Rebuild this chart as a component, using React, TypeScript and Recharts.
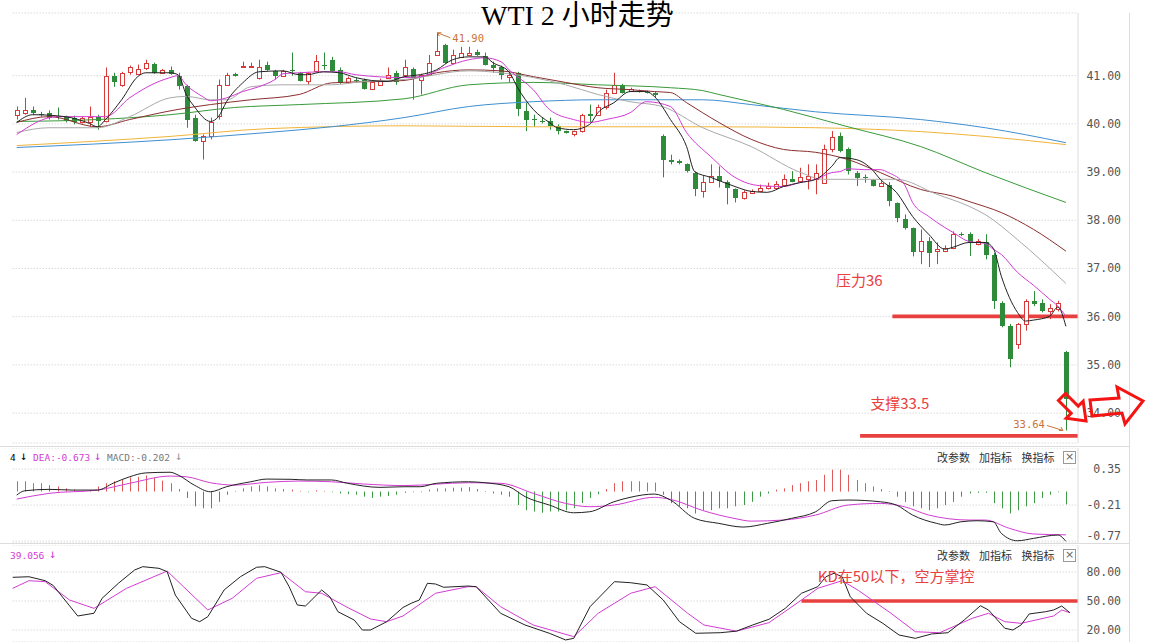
import React from "react";
import {
  ComposedChart,
  Bar,
  Line,
  XAxis,
  YAxis,
  CartesianGrid,
  ReferenceArea,
  ReferenceDot,
} from "recharts";

// ---------------- DATA ----------------
const opens = [
  40.19, 40.23, 40.28, 40.21, 40.23, 40.17, 40.14, 40.13, 40.03, 40.03,
  40.15, 40.05, 41.0, 40.81, 41.08, 41.04, 41.16, 41.25, 41.06, 41.12,
  41.0, 40.78, 40.13, 39.64, 39.74, 40.16, 40.81, 41.04, 41.17, 41.17,
  40.95, 41.23, 41.1, 40.99, 41.12, 41.06, 40.88, 41.09, 41.23, 41.32,
  41.12, 40.86, 40.92, 40.92, 40.73, 40.81, 40.96, 41.06, 41.02, 41.14,
  40.92, 41.02, 41.43, 41.64, 41.27, 41.39, 41.43, 41.5, 41.4, 41.23,
  41.17, 40.98, 41.06, 40.26, 40.1, 40.06, 40.05, 39.95, 39.85, 39.78,
  39.85, 40.2, 40.19, 40.36, 40.64, 40.81, 40.68, 40.68, 40.67, 40.65,
  39.74, 39.26, 39.22, 39.16, 38.99, 38.6, 38.79, 38.92, 38.79, 38.64,
  38.47, 38.57, 38.6, 38.66, 38.68, 38.74, 38.86, 38.81, 38.86, 38.85,
  38.78, 39.47, 39.74, 39.47, 38.99, 38.89, 38.83, 38.71, 38.74, 38.36,
  38.02, 37.83, 37.36, 37.57, 37.36, 37.36, 37.43, 37.71, 37.71, 37.5,
  37.54, 37.29, 36.29, 35.81, 35.43, 35.85, 36.33, 36.28, 36.12, 36.16,
  35.26,
];
const highs = [
  40.36, 40.54, 40.36, 40.25, 40.28, 40.34, 40.17, 40.17, 40.15, 40.36,
  40.19, 41.17, 41.06, 41.08, 41.21, 41.23, 41.33, 41.27, 41.14, 41.19,
  41.06, 40.81, 40.19, 39.78, 40.13, 40.92, 41.06, 41.06, 41.29, 41.27,
  41.33, 41.29, 41.12, 41.12, 41.48, 41.08, 41.08, 41.43, 41.48, 41.39,
  41.17, 40.98, 40.96, 40.94, 40.88, 40.94, 41.17, 41.1, 41.33, 41.17,
  41.04, 41.43, 41.89, 41.66, 41.54, 41.6, 41.6, 41.54, 41.48, 41.29,
  41.21, 41.06, 41.08, 40.44, 40.19, 40.13, 40.13, 39.99, 39.86, 39.86,
  40.21, 40.4, 40.4, 40.71, 41.06, 40.83, 40.75, 40.71, 40.69, 40.67,
  39.78, 39.36, 39.26, 39.18, 39.01, 38.93, 39.16, 39.12, 38.83, 38.66,
  38.62, 38.64, 38.74, 38.78, 38.81, 38.95, 39.02, 39.09, 39.16, 39.16,
  39.57, 39.85, 39.82, 39.51, 39.02, 38.95, 38.85, 38.81, 38.79, 38.37,
  38.12, 37.85, 37.81, 37.65, 37.54, 37.48, 37.77, 37.75, 37.75, 37.61,
  37.71, 37.32, 36.32, 35.85, 35.87, 36.36, 36.53, 36.36, 36.26, 36.33,
  35.29,
];
const lows = [
  40.09, 40.19, 40.19, 40.15, 40.09, 40.09, 40.03, 39.99, 40.01, 39.94,
  39.88, 40.03, 40.77, 40.77, 41.02, 41.02, 41.12, 41.04, 41.04, 41.02,
  40.71, 39.92, 39.63, 39.26, 39.68, 40.09, 40.79, 40.98, 41.17, 41.17,
  40.92, 41.1, 40.92, 40.98, 41.0, 40.88, 40.81, 41.08, 41.12, 41.08,
  40.83, 40.83, 40.86, 40.71, 40.71, 40.79, 40.94, 40.81, 40.98, 40.5,
  40.61, 41.0, 41.41, 41.25, 41.25, 41.37, 41.41, 41.41, 41.21, 41.06,
  40.92, 40.86, 40.16, 39.85, 39.94, 40.01, 39.88, 39.78, 39.8, 39.74,
  39.82, 40.03, 40.17, 40.3, 40.63, 40.63, 40.67, 40.65, 40.63, 40.54,
  38.89, 39.16, 39.16, 38.99, 38.5, 38.47, 38.79, 38.68, 38.33, 38.37,
  38.43, 38.56, 38.6, 38.64, 38.66, 38.72, 38.79, 38.81, 38.64, 38.54,
  38.76, 39.41, 39.41, 38.95, 38.71, 38.78, 38.7, 38.7, 38.29, 37.96,
  37.81, 37.25, 37.09, 37.03, 37.09, 37.34, 37.4, 37.67, 37.26, 37.48,
  37.19, 36.16, 35.78, 34.95, 35.33, 35.71, 36.22, 36.09, 35.95, 36.11,
  33.64,
];
const closes = [
  40.28, 40.28, 40.23, 40.2, 40.13, 40.16, 40.06, 40.03, 40.13, 40.15,
  40.05, 40.99, 40.86, 41.06, 41.17, 41.14, 41.26, 41.06, 41.12, 41.04,
  40.78, 40.09, 39.64, 39.74, 40.03, 40.81, 41.02, 40.99, 41.21, 41.21,
  41.19, 41.12, 40.99, 41.09, 41.1, 40.88, 41.06, 41.3, 41.22, 41.09,
  40.85, 40.96, 40.88, 40.73, 40.86, 40.92, 41.02, 40.86, 41.17, 40.96,
  41.02, 41.27, 41.52, 41.26, 41.43, 41.48, 41.48, 41.43, 41.23, 41.16,
  41.02, 41.02, 40.3, 40.09, 40.08, 40.05, 39.95, 39.85, 39.82, 39.85,
  40.19, 40.17, 40.36, 40.64, 40.81, 40.64, 40.72, 40.67, 40.65, 40.59,
  39.26, 39.2, 39.19, 39.02, 38.64, 38.79, 38.92, 38.81, 38.66, 38.47,
  38.58, 38.6, 38.68, 38.71, 38.76, 38.86, 38.79, 38.9, 38.92, 38.99,
  39.47, 39.73, 39.43, 39.02, 38.88, 38.88, 38.71, 38.78, 38.4, 38.05,
  37.85, 37.34, 37.57, 37.33, 37.4, 37.43, 37.71, 37.69, 37.54, 37.57,
  37.29, 36.33, 35.81, 35.12, 35.85, 36.33, 36.26, 36.12, 36.19, 36.29,
  34.29,
];

type Pt = [number, number];

const ma5Pts: Pt[] = [
  [0, 40.03], [2, 40.19], [6, 40.15], [9, 40.01], [10, 39.94], [11, 40.09], [13, 40.5], [15, 40.98],
  [16, 41.06], [19, 41.06], [20, 41.02], [21, 40.61], [22, 40.36], [24, 40.05], [25, 40.15], [26, 40.46],
  [28, 40.85], [30, 41.08], [33, 41.1], [35, 41.02], [36, 41.02], [38, 41.08], [40, 41.06], [42, 40.96],
  [46, 40.88], [48, 40.98], [50, 41.02], [52, 41.12], [54, 41.33], [56, 41.39], [58, 41.39], [59, 41.27],
  [61, 41.08], [62, 40.77], [64, 40.3], [66, 40.03], [67, 39.92], [69, 39.88], [71, 39.99], [72, 40.23],
  [74, 40.44], [76, 40.67], [78, 40.67], [79, 40.57], [81, 40.09], [83, 39.53], [84, 39.01], [86, 38.89],
  [89, 38.7], [91, 38.6], [93, 38.58], [95, 38.7], [97, 38.78], [99, 38.85], [101, 39.12], [102, 39.3],
  [104, 39.26], [106, 39.05], [107, 38.85], [109, 38.58], [111, 38.08], [113, 37.71], [115, 37.4],
  [116, 37.44], [118, 37.54], [120, 37.54], [121, 37.42], [122, 36.84], [124, 36.09], [125, 35.91],
  [126, 35.93], [128, 36.01], [129, 36.2], [130, 35.8],
];
const ma10Pts: Pt[] = [
  [0, 39.78], [5, 40.15], [10, 40.15], [11, 40.15], [14, 40.54], [16, 40.75], [19, 40.96], [20, 41.0],
  [21, 40.81], [23, 40.57], [24, 40.48], [26, 40.54], [28, 40.67], [30, 40.77], [32, 40.92], [33, 41.04],
  [35, 41.06], [38, 41.08], [40, 41.08], [42, 41.02], [48, 40.96], [50, 40.98], [53, 41.17], [56, 41.33],
  [58, 41.37], [60, 41.29], [61, 41.12], [64, 40.71], [66, 40.3], [69, 40.09], [71, 40.03], [73, 40.09],
  [76, 40.23], [78, 40.46], [81, 40.36], [83, 39.82], [86, 39.32], [89, 38.89], [92, 38.72], [95, 38.7],
  [97, 38.78], [99, 38.85], [101, 38.99], [102, 39.01], [103, 39.07], [105, 39.05], [107, 39.05],
  [108, 38.99], [110, 38.74], [111, 38.37], [113, 38.08], [115, 37.85], [116, 37.75], [118, 37.56],
  [120, 37.52], [121, 37.4], [122, 37.29], [124, 36.92], [126, 36.65], [128, 36.36], [129, 36.22], [130, 36.01],
];
const ma20Pts: Pt[] = [
  [0, 39.82], [4, 39.92], [10, 39.92], [14, 40.15], [19, 40.54], [21, 40.57], [24, 40.5], [26, 40.5],
  [29, 40.77], [33, 40.81], [39, 40.81], [43, 40.88], [48, 40.92], [56, 41.1], [60, 41.06], [68, 40.81],
  [72, 40.61], [76, 40.46], [80, 40.36], [85, 39.92], [91, 39.53], [97, 39.0], [100, 38.85], [109, 38.85],
  [114, 38.54], [118, 38.29], [120, 38.12], [124, 37.6], [130, 36.69],
];
const ma30Pts: Pt[] = [
  [0, 40.03], [4, 40.15], [10, 39.94], [14, 40.09], [20, 40.3], [24, 40.4], [29, 40.5], [35, 40.61],
  [39, 40.85], [48, 40.9], [52, 41.06], [56, 41.12], [60, 41.1], [64, 40.98], [68, 40.86], [72, 40.75],
  [76, 40.71], [79, 40.67], [81, 40.65], [83, 40.44], [85, 40.23], [87, 40.03], [91, 39.68], [95, 39.47],
  [99, 39.41], [103, 39.26], [107, 38.99], [112, 38.64], [116, 38.5], [118, 38.39], [122, 38.16],
  [126, 37.81], [130, 37.36],
];
const ma60Pts: Pt[] = [
  [0, 40.05], [10, 40.09], [19, 40.19], [27, 40.34], [35, 40.4], [48, 40.52], [56, 40.81], [64, 40.86],
  [72, 40.81], [81, 40.75], [85, 40.69], [87, 40.61], [95, 40.3], [103, 39.94], [112, 39.53], [120, 38.99],
  [130, 38.37],
];
const ma120Pts: Pt[] = [
  [0, 39.51], [19, 39.67], [31, 39.82], [39, 39.94], [48, 40.13], [56, 40.36], [64, 40.46], [72, 40.5],
  [85, 40.5], [91, 40.4], [99, 40.25], [112, 40.09], [120, 39.92], [130, 39.61],
];
const ma250Pts: Pt[] = [
  [0, 39.55], [19, 39.74], [31, 39.9], [48, 39.96], [64, 39.94], [85, 39.94], [99, 39.92], [112, 39.84],
  [120, 39.74], [130, 39.57],
];

const macdHist = [
  0.16, 0.16, 0.13, 0.13, 0.1, 0.08, 0.05, 0.03, 0.01, 0.02,
  0.08, 0.13, 0.16, 0.19, 0.22, 0.23, 0.25, 0.21, 0.17, 0.13,
  0.04, -0.1, -0.23, -0.26, -0.26, -0.16, -0.05, 0.01, 0.05, 0.08,
  0.1, 0.08, 0.05, 0.04, 0.03, 0.01, -0.005, 0.02, 0.01, -0.01,
  -0.03, -0.04, -0.05, -0.08, -0.1, -0.08, -0.07, -0.05, -0.02, -0.01,
  -0.01, 0.03, 0.05, 0.05, 0.06, 0.06, 0.07, 0.04, 0.005, -0.03,
  -0.05, -0.08, -0.21, -0.29, -0.31, -0.33, -0.31, -0.31, -0.29, -0.26,
  -0.18, -0.1, -0.04, 0.04, 0.13, 0.16, 0.16, 0.16, 0.14, 0.14,
  -0.05, -0.18, -0.23, -0.26, -0.34, -0.29, -0.29, -0.26, -0.26, -0.23,
  -0.21, -0.16, -0.08, -0.03, 0.03, 0.05, 0.1, 0.13, 0.16, 0.18,
  0.26, 0.34, 0.34, 0.26, 0.18, 0.13, 0.08, 0.04, 0.005, -0.08,
  -0.16, -0.23, -0.26, -0.29, -0.26, -0.21, -0.16, -0.08, -0.03, -0.02,
  -0.02, -0.18, -0.26, -0.34, -0.29, -0.23, -0.18, -0.1, -0.05, -0.01,
  -0.2,
];
const difPts: Pt[] = [
  [0, -0.054], [1, 0.012], [4, 0.034], [7, 0.023], [10, 0.023], [12, 0.132], [14, 0.23], [16, 0.29],
  [19, 0.3], [20, 0.257], [22, 0.1], [24, -0.003], [26, 0.075], [29, 0.152], [31, 0.194], [34, 0.19],
  [36, 0.18], [39, 0.18], [41, 0.128], [45, 0.065], [48, 0.075], [50, 0.075], [52, 0.128], [56, 0.152],
  [58, 0.137], [61, 0.075], [63, -0.08], [66, -0.21], [69, -0.33], [71, -0.314], [74, -0.159], [76, -0.09],
  [79, -0.039], [81, -0.132], [84, -0.417], [87, -0.495], [90, -0.552], [93, -0.495], [96, -0.417],
  [99, -0.314], [101, -0.143], [103, -0.132], [107, -0.159], [109, -0.21], [111, -0.365], [114, -0.495],
  [115, -0.52], [117, -0.47], [119, -0.454], [121, -0.47], [122, -0.65], [124, -0.765], [126, -0.728],
  [129, -0.676], [130, -0.774],
];
const deaPts: Pt[] = [
  [0, -0.117], [4, -0.028], [10, 0.023], [14, 0.128], [19, 0.24], [21, 0.23], [24, 0.137], [27, 0.1],
  [31, 0.143], [35, 0.163], [39, 0.152], [43, 0.117], [48, 0.093], [56, 0.137], [60, 0.128], [64, -0.028],
  [68, -0.184], [71, -0.236], [74, -0.21], [79, -0.09], [81, -0.121], [85, -0.295], [89, -0.42],
  [91, -0.46], [95, -0.443], [99, -0.365], [103, -0.21], [107, -0.184], [110, -0.236], [113, -0.365],
  [118, -0.443], [120, -0.443], [123, -0.572], [126, -0.66], [130, -0.673],
];
const kPts: Pt[] = [
  [0, 74.5], [2, 75.1], [4, 71.0], [5, 66.0], [7, 45.0], [8, 34.5], [10, 37.3], [11, 52.8], [13, 68.3],
  [15, 82.1], [16, 85.5], [18, 83.8], [19, 80.3], [20, 56.2], [22, 32.1], [23, 28.6], [24, 33.8],
  [26, 61.4], [28, 75.1], [30, 84.9], [31, 85.5], [33, 79.7], [34, 64.8], [35, 45.9], [36, 44.8],
  [38, 61.4], [39, 54.4], [40, 38.9], [42, 30.3], [43, 20.0], [44, 20.0], [46, 28.6], [48, 43.3],
  [49, 47.6], [50, 51.0], [51, 68.3], [52, 67.6], [53, 64.2], [56, 65.5], [57, 64.8], [60, 37.3],
  [63, 25.2], [66, 16.6], [68, 9.7], [69, 11.4], [71, 44.1], [74, 70.0], [76, 68.9], [78, 66.6],
  [80, 51.0], [82, 28.6], [84, 16.6], [87, 17.2], [89, 18.8], [91, 25.2], [93, 31.1], [95, 42.4],
  [97, 58.0], [99, 64.8], [100, 75.1], [101, 78.7], [102, 75.1], [103, 54.4], [105, 37.3], [107, 26.9],
  [109, 14.8], [111, 11.4], [113, 15.9], [115, 17.2], [117, 30.3], [119, 45.1], [120, 40.7], [122, 21.8],
  [123, 20.0], [124, 25.2], [125, 36.6], [127, 38.9], [128, 40.7], [129, 44.8], [130, 37.9],
];
const dPts: Pt[] = [
  [0, 63.1], [2, 71.0], [4, 70.0], [7, 51.0], [10, 42.4], [14, 63.1], [19, 81.0], [21, 64.8], [24, 40.7],
  [27, 52.8], [30, 73.5], [33, 79.3], [36, 59.6], [38, 58.0], [41, 44.1], [44, 31.4], [46, 28.6],
  [48, 34.5], [52, 58.0], [56, 64.8], [57, 64.8], [60, 44.1], [64, 25.2], [69, 13.1], [72, 37.3],
  [76, 58.0], [79, 64.8], [83, 37.3], [85, 25.2], [89, 18.8], [93, 27.6], [97, 51.0], [99, 63.1],
  [102, 71.0], [104, 60.9], [108, 37.3], [111, 18.2], [114, 17.2], [118, 32.1], [120, 37.3], [122, 28.6],
  [124, 26.9], [128, 34.5], [129, 40.7], [130, 37.9],
];

const priceTicks = [34, 35, 36, 37, 38, 39, 40, 41];
const macdTicks = [0.35, -0.21, -0.77];
const kdTicks = [80, 50, 20];

// ---------------- LAYOUT / STYLE ----------------
const SLOTS = 132;
const LEFT = 12.66;
const AXIS_W = 72;
const W = 1150;
const RED = "#d83a3a";
const GREEN = "#2e8b3a";
const MAGENTA = "#d23cd2";
const LINE_RED = "#e8403f";
const MONO = "DejaVu Sans Mono, Liberation Mono, monospace";
const CJK = "Noto Sans CJK SC, Noto Sans, sans-serif";

const toMap = (pts: Pt[]) => {
  const m = new Map<number, number>();
  pts.forEach(([i, v]) => m.set(i, v));
  return m;
};
const series = (obj: Record<string, Pt[]>) =>
  Object.entries(obj).map(([k, pts]) => [k, toMap(pts)] as [string, Map<number, number>]);

const mainSeries = series({
  ma5: ma5Pts, ma10: ma10Pts, ma20: ma20Pts, ma30: ma30Pts, ma60: ma60Pts, ma120: ma120Pts, ma250: ma250Pts,
});
const mainRows = Array.from({ length: SLOTS }, (_, i) => {
  const row: any = { i };
  if (i < opens.length) {
    row.o = opens[i];
    row.h = highs[i];
    row.l = lows[i];
    row.c = closes[i];
    row.range = [lows[i], highs[i]];
  }
  mainSeries.forEach(([k, m]) => (row[k] = m.has(i) ? m.get(i) : null));
  return row;
});
const macdSeries = series({ dif: difPts, dea: deaPts });
const macdRows = Array.from({ length: SLOTS }, (_, i) => {
  const row: any = { i, hist: i < macdHist.length ? macdHist[i] : null };
  macdSeries.forEach(([k, m]) => (row[k] = m.has(i) ? m.get(i) : null));
  return row;
});
const kdSeries = series({ k: kPts, d: dPts });
const kdRows = Array.from({ length: SLOTS }, (_, i) => {
  const row: any = { i };
  kdSeries.forEach(([k, m]) => (row[k] = m.has(i) ? m.get(i) : null));
  return row;
});

// ---------------- SHAPES ----------------
const Candle = (props: any) => {
  const { x, y, width, height, payload } = props;
  if (!payload || payload.o == null || x == null || y == null) return <g />;
  const top = Math.min(y, y + height);
  const hgt = Math.abs(height);
  const span = payload.h - payload.l;
  const py = (p: number) => (span > 0 ? top + ((payload.h - p) / span) * hgt : top);
  const col = Math.round(x + width / 2);
  const cx = col + 0.5;
  const up = payload.c >= payload.o;
  const yHi = py(payload.h);
  const yLo = py(payload.l);
  const yTop = py(Math.max(payload.o, payload.c));
  const yBot = py(Math.min(payload.o, payload.c));
  if (up) {
    const bt = Math.round(yTop) + 0.5;
    const bb = Math.max(Math.round(yBot) + 0.5, bt + 1);
    return (
      <g>
        <line x1={cx} x2={cx} y1={yHi} y2={bt} stroke={RED} strokeWidth={1} />
        <line x1={cx} x2={cx} y1={bb} y2={yLo} stroke={RED} strokeWidth={1} />
        <rect x={cx - 2} y={bt} width={4} height={bb - bt} fill="#fff" stroke={RED} strokeWidth={1} />
      </g>
    );
  }
  const bt = Math.round(yTop);
  const bb = Math.max(Math.round(yBot), bt + 1);
  return (
    <g>
      <line x1={cx} x2={cx} y1={yHi} y2={yLo} stroke={GREEN} strokeWidth={1} />
      <rect x={col - 2} y={bt} width={5} height={bb - bt} fill={GREEN} />
    </g>
  );
};

const HistBar = (props: any) => {
  const { x, y, width, height, payload } = props;
  if (!payload || payload.hist == null || x == null || y == null) return <g />;
  const cx = Math.round(x + width / 2) + 0.5;
  const t = Math.min(y, y + height);
  const b = Math.max(y, y + height);
  return (
    <line x1={cx} x2={cx} y1={t} y2={Math.max(b, t + 0.6)} stroke={payload.hist >= 0 ? "#e05a5a" : "#3d9a45"} strokeWidth={1} />
  );
};

const makeTick = (lastShift = 0, lastVal?: number) => (props: any) => {
  const { x, y, payload } = props;
  const shift = lastVal !== undefined && payload.value === lastVal ? lastShift : 0;
  return (
    <text x={x + 43} y={y + shift} dy={4} textAnchor="end" fontFamily={MONO} fontSize={11.5} fill="#555">
      {Number(payload.value).toFixed(2)}
    </text>
  );
};

const PriceLabel = (side: "right" | "left", text: string) => (props: any) => {
  const { cx, cy } = props;
  if (cx == null || cy == null) return <g />;
  if (side === "right") {
    return (
      <g>
        <line x1={cx + 1} y1={cy} x2={cx + 14} y2={cy + 5} stroke="#c8733a" strokeWidth={1} />
        <polyline points={`${cx + 5},${cy} ${cx + 1},${cy} ${cx + 3},${cy + 3.5}`} fill="none" stroke="#c8733a" strokeWidth={1} />
        <text x={cx + 16} y={cy + 9} fontFamily={MONO} fontSize={10.5} fill="#c8733a">{text}</text>
      </g>
    );
  }
  return (
    <g>
      <line x1={cx - 19} y1={cy - 5} x2={cx - 3} y2={cy} stroke="#c8733a" strokeWidth={1} />
      <polyline points={`${cx - 7},${cy} ${cx - 3},${cy} ${cx - 5},${cy - 3.5}`} fill="none" stroke="#c8733a" strokeWidth={1} />
      <text x={cx - 21} y={cy - 2} textAnchor="end" fontFamily={MONO} fontSize={10.5} fill="#c8733a">{text}</text>
    </g>
  );
};

const RedText = (text: string, dx = 0) => (props: any) => {
  const { cx, cy } = props;
  if (cx == null || cy == null) return <g />;
  return (
    <text x={cx + dx} y={cy} dy={5} fontFamily={CJK} fontSize={15} fill={LINE_RED}>{text}</text>
  );
};

const yAxisCommon = {
  orientation: "right" as const,
  width: AXIS_W,
  tickSize: 0,
  tickMargin: 0,
  tickLine: false,
  axisLine: { stroke: "#dcdcdc" },
  allowDataOverflow: true,
  interval: 0 as const,
};

const MenuRow = ({ top }: { top: number }) => (
  <>
    {[["改参数", 937], ["加指标", 979], ["换指标", 1021.5]].map(([t, x]) => (
      <div key={t as string} style={{ position: "absolute", left: x as number, top, fontFamily: CJK, fontSize: 11, lineHeight: "14px", color: "#333", whiteSpace: "nowrap" }}>{t}</div>
    ))}
    <div style={{ position: "absolute", left: 1063, top: top + 1, width: 11, height: 11, border: "1px solid #999", fontFamily: "DejaVu Sans, sans-serif", fontSize: 11, lineHeight: "10px", textAlign: "center", color: "#666" }}>×</div>
  </>
);

export default function App() {
  return (
    <div style={{ position: "absolute", left: 0, top: 0, width: W, height: 642, background: "#fff", overflow: "hidden" }}>
      {/* panel frame lines */}
      <div style={{ position: "absolute", left: 1129, top: 13, width: 1, height: 629, background: "#dcdcdc" }} />
      <div style={{ position: "absolute", left: 0, top: 446, width: 1130, height: 1, background: "#dcdcdc" }} />
      <div style={{ position: "absolute", left: 0, top: 543, width: 1130, height: 1, background: "#dcdcdc" }} />

      {/* main price panel */}
      <div style={{ position: "absolute", left: 0, top: 0 }}>
        <ComposedChart width={W} height={445} data={mainRows} margin={{ top: 13, right: 0, bottom: 2, left: LEFT }}>
          <CartesianGrid vertical={false} stroke="#c9c9c9" strokeDasharray="1 2" />
          <XAxis dataKey="i" type="category" hide />
          <YAxis {...yAxisCommon} domain={[33.38, 42.3]} ticks={priceTicks} tick={makeTick()} />
          <Bar dataKey="range" barSize={5} shape={Candle} isAnimationActive={false} />
          <Line type="monotone" dataKey="ma250" stroke="#f0b43c" strokeWidth={1} dot={false} connectNulls isAnimationActive={false} />
          <Line type="monotone" dataKey="ma120" stroke="#3f8fd0" strokeWidth={1} dot={false} connectNulls isAnimationActive={false} />
          <Line type="monotone" dataKey="ma60" stroke="#3a9a3a" strokeWidth={1} dot={false} connectNulls isAnimationActive={false} />
          <Line type="monotone" dataKey="ma30" stroke="#8a2e2e" strokeWidth={1} dot={false} connectNulls isAnimationActive={false} />
          <Line type="monotone" dataKey="ma20" stroke="#a9a9a9" strokeWidth={1} dot={false} connectNulls isAnimationActive={false} />
          <Line type="monotone" dataKey="ma10" stroke={MAGENTA} strokeWidth={1} dot={false} connectNulls isAnimationActive={false} />
          <Line type="monotone" dataKey="ma5" stroke="#222" strokeWidth={1} dot={false} connectNulls isAnimationActive={false} />
          <ReferenceArea x1={109} y1={35.97} y2={36.045} fill={LINE_RED} fillOpacity={1} stroke="none" />
          <ReferenceArea x1={105} y1={33.49} y2={33.565} fill={LINE_RED} fillOpacity={1} stroke="none" />
          <ReferenceDot x={52} y={41.89} r={1} fill="none" stroke="none" shape={PriceLabel("right", "41.90")} />
          <ReferenceDot x={130} y={33.64} r={1} fill="none" stroke="none" shape={PriceLabel("left", "33.64")} />
          <ReferenceDot x={102} y={36.75} r={1} fill="none" stroke="none" shape={RedText("压力36", -4)} />
          <ReferenceDot x={106} y={34.19} r={1} fill="none" stroke="none" shape={RedText("支撑33.5", -2)} />
        </ComposedChart>
      </div>

      {/* MACD panel */}
      <div style={{ position: "absolute", left: 0, top: 448 }}>
        <ComposedChart width={W} height={95} data={macdRows} margin={{ top: 0, right: 0, bottom: 0, left: LEFT }}>
          <CartesianGrid vertical={false} stroke="#c9c9c9" strokeDasharray="1 2" />
          <XAxis dataKey="i" type="category" hide />
          <YAxis {...yAxisCommon} domain={[-0.8, 0.677]} ticks={macdTicks} tick={makeTick(-5, -0.77)} />
          <Bar dataKey="hist" barSize={3} shape={HistBar} isAnimationActive={false} />
          <Line type="monotone" dataKey="dea" stroke={MAGENTA} strokeWidth={1} dot={false} connectNulls isAnimationActive={false} />
          <Line type="monotone" dataKey="dif" stroke="#222" strokeWidth={1} dot={false} connectNulls isAnimationActive={false} />
        </ComposedChart>
      </div>

      {/* KD panel */}
      <div style={{ position: "absolute", left: 0, top: 545 }}>
        <ComposedChart width={W} height={97} data={kdRows} margin={{ top: 0, right: 0, bottom: 0, left: LEFT }}>
          <CartesianGrid vertical={false} stroke="#c9c9c9" strokeDasharray="1 2" />
          <XAxis dataKey="i" type="category" hide />
          <YAxis {...yAxisCommon} domain={[7.59, 107.93]} ticks={kdTicks} tick={makeTick()} />
          <Line type="linear" dataKey="d" stroke={MAGENTA} strokeWidth={1} dot={false} connectNulls isAnimationActive={false} />
          <Line type="linear" dataKey="k" stroke="#222" strokeWidth={1} dot={false} connectNulls isAnimationActive={false} />
          <ReferenceArea x1={97} x2={131} y1={48.2} y2={51.8} fill={LINE_RED} fillOpacity={1} stroke="none" />
          <ReferenceDot x={99} y={74.8} r={1} fill="none" stroke="none" shape={RedText("KD在50以下，空方掌控", 0)} />
        </ComposedChart>
      </div>

      {/* title */}
      <div style={{ position: "absolute", left: 481, top: 1, fontFamily: "Liberation Serif, Noto Sans CJK SC, serif", fontSize: 28, lineHeight: "30px", color: "#000", whiteSpace: "pre" }}>
        WTI 2 小时走势
      </div>

      {/* MACD header */}
      <div style={{ position: "absolute", left: 0, top: 451, fontFamily: MONO, fontSize: 9.5, lineHeight: "13px", whiteSpace: "pre" }}>
        <span style={{ position: "absolute", left: 10, color: "#000" }}>4</span>
        <span style={{ position: "absolute", left: 20, top: -1, fontSize: 12, color: "#000" }}>↓</span>
        <span style={{ position: "absolute", left: 33, color: MAGENTA }}>DEA:-0.673</span>
        <span style={{ position: "absolute", left: 94, top: -1, fontSize: 12, color: MAGENTA }}>↓</span>
        <span style={{ position: "absolute", left: 107, color: "#777" }}>MACD:-0.202</span>
        <span style={{ position: "absolute", left: 175, top: -1, fontSize: 12, color: "#999" }}>↓</span>
      </div>
      <MenuRow top={450} />

      {/* KD header */}
      <div style={{ position: "absolute", left: 0, top: 549, fontFamily: MONO, fontSize: 9.5, lineHeight: "13px", whiteSpace: "pre" }}>
        <span style={{ position: "absolute", left: 10, color: MAGENTA }}>39.056</span>
        <span style={{ position: "absolute", left: 49, top: -1, fontSize: 12, color: MAGENTA }}>↓</span>
      </div>
      <MenuRow top={548} />

      {/* hollow red arrows */}
      <svg width={W} height={642} style={{ position: "absolute", left: 0, top: 0, pointerEvents: "none" }}>
        <polygon points="1090,400 1119,398 1117,387 1143,401 1125,424 1122,413 1092,416" fill="none" stroke="#f41414" strokeWidth={3} strokeLinejoin="miter" />
        <g transform="translate(1074,409) rotate(45)">
          <polygon points="-17,-5 1,-5 1,-12 17,0 1,12 1,5 -17,5" fill="none" stroke="#f41414" strokeWidth={3} strokeLinejoin="miter" />
        </g>
      </svg>
    </div>
  );
}
